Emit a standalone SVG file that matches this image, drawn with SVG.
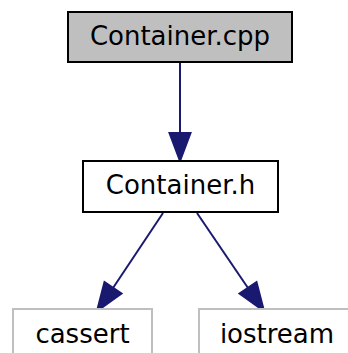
<svg xmlns="http://www.w3.org/2000/svg" width="348" height="353" viewBox="0 0 348 353">
  <defs>
    <style>
      .node rect { stroke-width: 2; }
      .main rect { fill: #bfbfbf; stroke: #000000; }
      .local rect { fill: #ffffff; stroke: #000000; }
      .sys rect { fill: #ffffff; stroke: #bfbfbf; }
      .node text { font-family: "DejaVu Sans", sans-serif; font-size: 26px; fill: #000000; text-anchor: middle; }
      .edge { stroke: #191970; stroke-width: 2; fill: none; }
      .head { fill: #191970; stroke: #191970; stroke-width: 2; }
    </style>
  </defs>
  <rect width="348" height="353" fill="#ffffff"/>

  <!-- include edges -->
  <g id="edges">
    <path class="edge" d="M180,62 L180,133"/>
    <polygon class="head" points="169.5,133 190.5,133 180,161"/>
    <path class="edge" d="M163,213 L113,288"/>
    <polygon class="head" points="104.5,282 121.5,293.5 97,311"/>
    <path class="edge" d="M197,213 L248,288"/>
    <polygon class="head" points="239.5,293.5 256.5,282 264,311"/>
  </g>

  <g id="node-container-cpp" class="node main">
    <rect x="68" y="12" width="224" height="50"/>
    <text x="180" y="45">Container.cpp</text>
  </g>

  <g id="node-container-h" class="node local">
    <rect x="83" y="161" width="195" height="51"/>
    <text x="180.5" y="194">Container.h</text>
  </g>

  <g id="node-cassert" class="node sys">
    <rect x="13" y="309" width="139" height="56"/>
    <text x="82.5" y="343">cassert</text>
  </g>

  <g id="node-iostream" class="node sys">
    <rect x="199" y="309" width="156" height="56"/>
    <text x="277" y="343">iostream</text>
  </g>
</svg>
